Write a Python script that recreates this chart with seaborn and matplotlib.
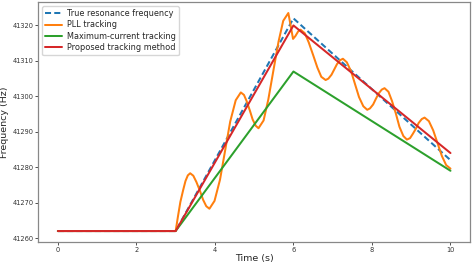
import matplotlib
matplotlib.use("Agg")
import matplotlib.pyplot as plt
import seaborn as sns

# piecewise-linear references: breakpoints at t = 0, 3, 6, 10
ramp_t = [0, 3, 6, 10]
true_freq = [41262, 41262, 41322, 41282]
max_current = [41262, 41262, 41307, 41279]
proposed = [41262, 41262, 41320, 41284]

# PLL tracking
pll_t = [0.00, 3.00, 3.06, 3.12, 3.19, 3.25, 3.31, 3.37,
         3.45, 3.53, 3.62, 3.70, 3.78, 3.86,
         3.99, 4.13, 4.26, 4.39, 4.53, 4.66,
         4.74, 4.81, 4.89, 4.96, 5.04, 5.11,
         5.24, 5.36, 5.49, 5.62, 5.74, 5.87,
         5.93, 5.99, 6.05, 6.12, 6.18,
         6.29, 6.39, 6.50, 6.61, 6.71, 6.82,
         6.89, 6.97, 7.04, 7.11, 7.19, 7.26,
         7.36, 7.47, 7.57, 7.67, 7.78, 7.88,
         7.95, 8.03, 8.10, 8.17, 8.25, 8.32,
         8.42, 8.51, 8.61, 8.70, 8.80, 8.89,
         8.97, 9.04, 9.12, 9.19, 9.27, 9.34,
         9.45, 9.56, 9.67, 9.78, 9.89, 10.00]
pll_f = [41262.0, 41262.0, 41266.2, 41270.2, 41273.5, 41276.1, 41277.7, 41278.3,
         41277.6, 41275.8, 41273.3, 41270.8, 41269.0, 41268.3,
         41270.5, 41276.5, 41284.7, 41292.9, 41298.9, 41301.1,
         41300.4, 41298.6, 41296.0, 41293.5, 41291.7, 41291.0,
         41293.2, 41299.1, 41307.3, 41315.4, 41321.3, 41323.5,
         41319.9, 41316.2, 41317.0, 41318.3, 41318.8,
         41317.8, 41315.2, 41311.7, 41308.1, 41305.5, 41304.6,
         41305.0, 41306.1, 41307.6, 41309.1, 41310.2, 41310.6,
         41309.6, 41307.0, 41303.4, 41299.8, 41297.2, 41296.2,
         41296.6, 41297.7, 41299.3, 41300.8, 41301.9, 41302.3,
         41301.3, 41298.7, 41295.1, 41291.4, 41288.8, 41287.8,
         41288.2, 41289.4, 41290.9, 41292.5, 41293.6, 41294.0,
         41293.0, 41290.4, 41286.8, 41283.2, 41280.6, 41279.6]

sns.set_style("ticks")
plt.rcParams["font.family"] = ["DejaVu Sans"]

fig, ax = plt.subplots(figsize=(4.72, 2.65), dpi=100)
fig.subplots_adjust(left=0.081, right=0.996, top=0.992, bottom=0.087)

lw = 1.45
sns.lineplot(x=ramp_t, y=true_freq, ax=ax, color="#1f77b4", lw=lw,
             linestyle=(0, (3, 1.6)), label="True resonance frequency")
sns.lineplot(x=pll_t, y=pll_f, ax=ax, color="#ff7f0e", lw=lw,
             label="PLL tracking", sort=False)
sns.lineplot(x=ramp_t, y=max_current, ax=ax, color="#2ca02c", lw=lw,
             label="Maximum-current tracking")
sns.lineplot(x=ramp_t, y=proposed, ax=ax, color="#d62728", lw=lw,
             label="Proposed tracking method")

ax.ticklabel_format(axis="y", useOffset=False, style="plain")
ax.set_xticks([0, 2, 4, 6, 8, 10])
ax.set_yticks([41260, 41270, 41280, 41290, 41300, 41310, 41320])
ax.tick_params(labelsize=4.8, colors="#333333", length=2, width=0.6, pad=1.5)
for sp in ax.spines.values():
    sp.set_visible(True)
    sp.set_color("#888888")
    sp.set_linewidth(0.9)

ax.set_xlabel("Time (s)", fontsize=6.8, labelpad=1)
ax.set_ylabel("Frequency (Hz)", fontsize=6.8, labelpad=2)

ax.legend(loc="upper left", fontsize=5.85, frameon=True, handlelength=2.1,
          borderpad=0.35, labelspacing=0.3, handletextpad=0.6,
          borderaxespad=0.5)

fig.savefig("out.png", dpi=100)
